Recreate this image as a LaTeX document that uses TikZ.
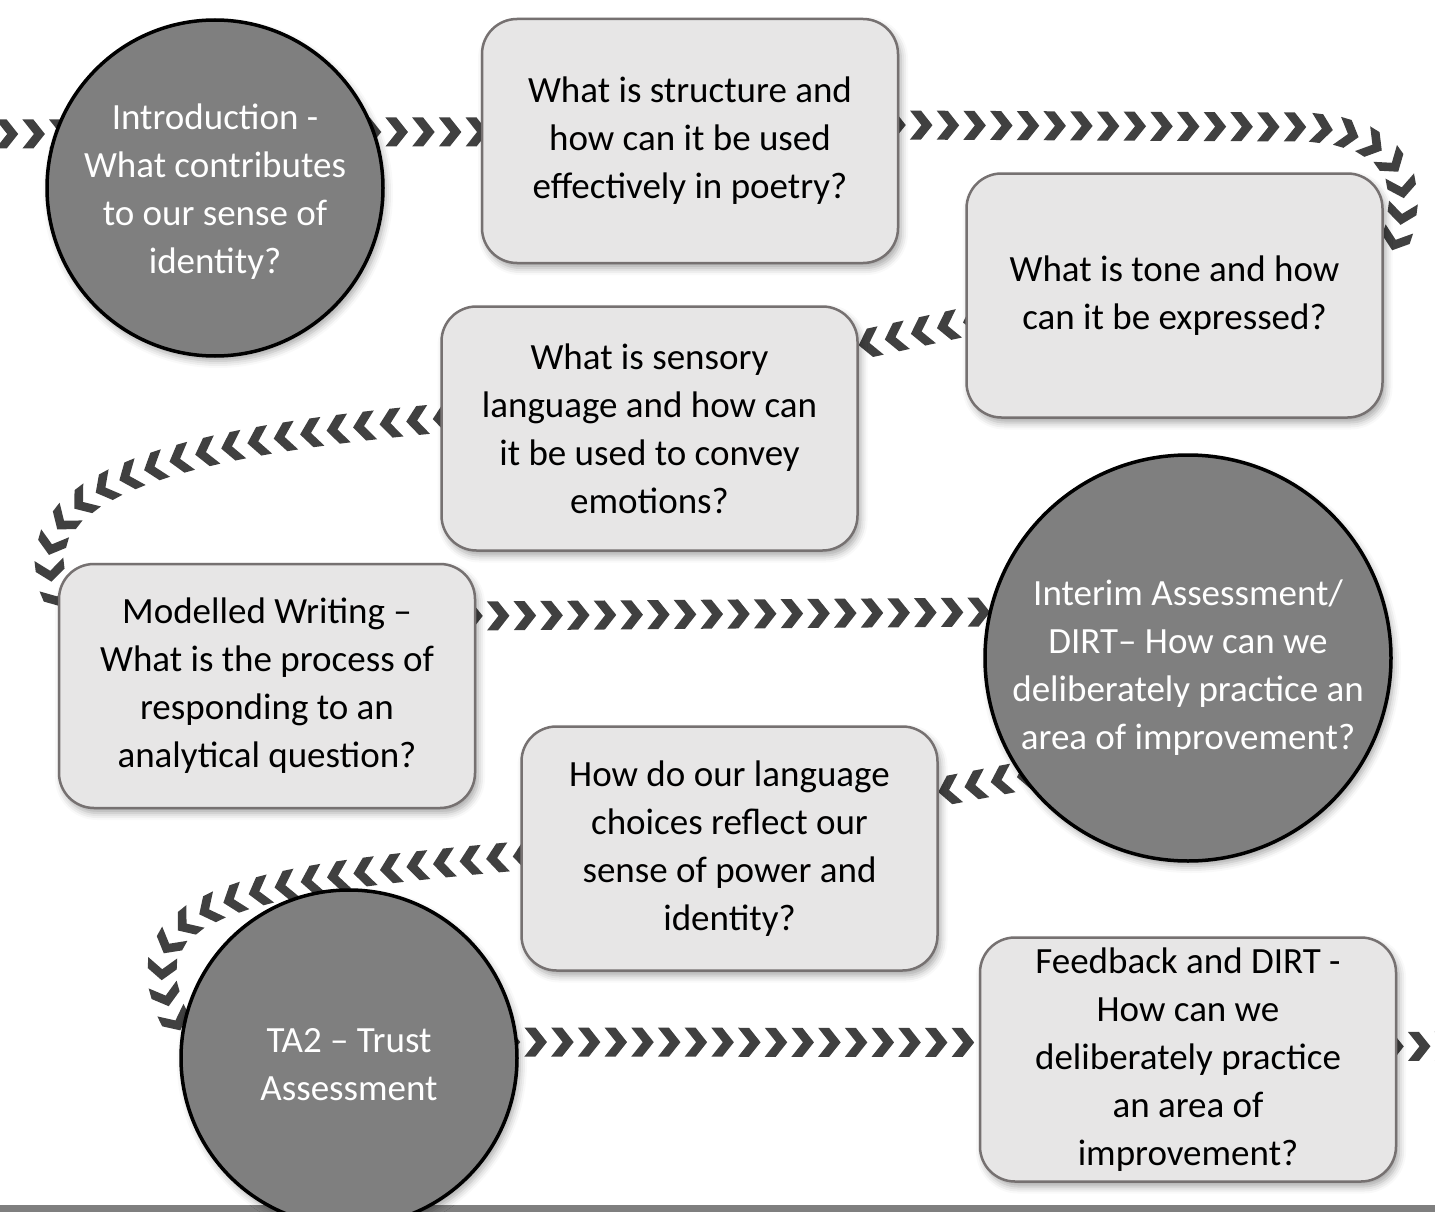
\documentclass[tikz,border=0pt]{standalone}
\usepackage{fontspec}
\setmainfont{Carlito}
\usetikzlibrary{decorations.markings,shadows.blur,calc}
\definecolor{boxfill}{HTML}{E7E6E6}
\definecolor{boxline}{HTML}{767171}
\definecolor{circfill}{HTML}{7F7F7F}
\definecolor{chevcol}{HTML}{404040}
\pgfdeclarelayer{background}
\pgfsetlayers{background,main}
\tikzset{
  txt/.style={align=center, font=\fontsize{37}{48}\selectfont},
  stepbox/.style={txt, draw=boxline, line width=2.5pt, fill=boxfill, rounded corners=35pt,
    minimum width=416pt, minimum height=244pt, text=black,
    blur shadow={shadow xshift=3pt, shadow yshift=-5pt, shadow blur radius=7pt, shadow opacity=35}},
  milestone/.style={circle, draw=black, line width=3.5pt, fill=circfill, inner sep=0pt,
    blur shadow={shadow xshift=3pt, shadow yshift=-5pt, shadow blur radius=7pt, shadow opacity=35}},
  mtext/.style={txt, text=white, inner sep=0pt},
  chevpath/.style={decorate, decoration={markings,
    mark=between positions 0 and 1 step 26.7pt with {\fill[chevcol] (-11pt,-14.5pt) -- (0pt,-14.5pt) -- (11.5pt,0pt) -- (0pt,14.5pt) -- (-11pt,14.5pt) -- (0.5pt,0pt) -- cycle;}}}
}
\begin{document}
\begin{tikzpicture}[x=1pt,y=-1pt]
\useasboundingbox (0,0) rectangle (1435,1212);
% nodes
\node[milestone, minimum size=336pt, label={[mtext,yshift=-4pt]center:{Introduction -\\What contributes\\to our sense of\\identity?}}] (c1) at (215,188) {};
\node[stepbox] (r2) at (690,141) {What is structure and\\how can it be used\\effectively in poetry?};
\node[stepbox] (r3) at (1174.5,295.5) {What is tone and how\\can it be expressed?};
\node[stepbox] (r4) at (649.5,428.5) {What is sensory\\language and how can\\it be used to convey\\emotions?};
\node[stepbox] (r5) at (267,686) {Modelled Writing –\\What is the process of\\responding to an\\analytical question?};
\node[milestone, minimum size=406pt, label={[mtext,yshift=-10pt]center:{Interim Assessment/\\DIRT– How can we\\deliberately practice an\\area of improvement?}}] (c6) at (1188,658) {};
\node[stepbox] (r7) at (729.5,848.5) {How do our language\\choices reflect our\\sense of power and\\identity?};
\node[milestone, minimum size=336pt, label={[mtext,yshift=-7pt]center:{TA2 – Trust\\Assessment}}] (c8) at (349,1058) {};
\node[stepbox] (r9) at (1188,1059.5) {Feedback and DIRT -\\How can we\\deliberately practice\\an area of\\improvement?};
\coordinate (aS) at (-20,134);
\coordinate (jE) at (1470,1046);
\begin{pgfonlayer}{background}
\fill[circfill] (0,1205) rectangle (1435,1212);
% connectors
\path[chevpath] (aS) -- ($(c1.west)+(20,-54)$);
\path[chevpath] ($(c1.east)+(-15,-56)$) -- ($(r2.west)+(5,-9)$);
\path[chevpath] ($(r2.east)+(-5,-16)$) -- (1300,127) .. controls (1390,130) and (1420,175) .. ($(r3.north east)+(10,73)$);
\path[chevpath] ($(r3.west)+(9,24.5)$) -- ($(r4.east)+(-8,-81.5)$);
\path[chevpath] ($(r4.west)+(4,-10.5)$) .. controls (200,440) and (-5,480) .. ($(r5.north west)+(5,45)$);
\path[chevpath] ($(r5.east)+(-5,-70)$) -- ($(c6.west)+(15,-46)$);
\path[chevpath] ($(c6.west)+(45,117)$) -- ($(r7.east)+(-8,-55)$);
\path[chevpath] ($(r7.west)+(4,7)$) .. controls (250,880) and (105,900) .. ($(c8.west)+(4,-23)$);
\path[chevpath] ($(c8.east)+(-10,-16)$) -- ($(r9.west)+(5,-17)$);
\path[chevpath] ($(r9.east)+(-5,-13)$) -- (jE);
\end{pgfonlayer}
\end{tikzpicture}
\end{document}
